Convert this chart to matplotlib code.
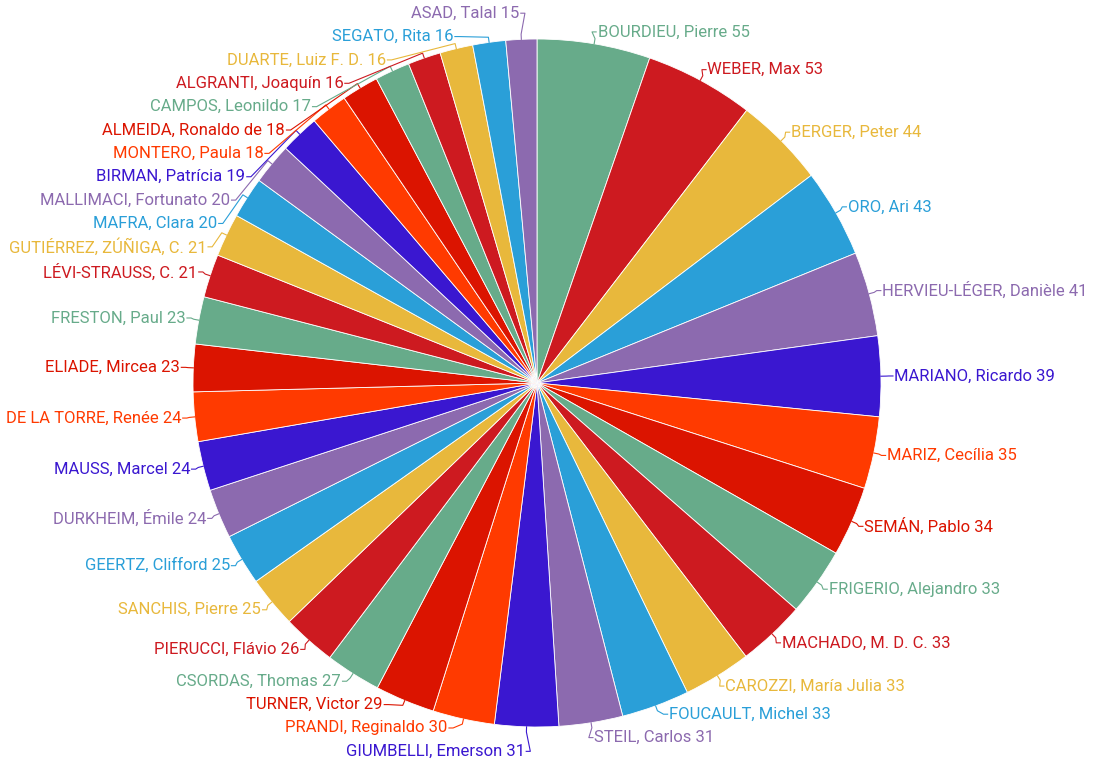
import numpy as np
import matplotlib
matplotlib.use("Agg")
import matplotlib.pyplot as plt

plt.rcParams['font.family'] = ['Roboto', 'DejaVu Sans']

names = [
    "BOURDIEU, Pierre", "WEBER, Max", "BERGER, Peter", "ORO, Ari",
    "HERVIEU-LÉGER, Danièle", "MARIANO, Ricardo", "MARIZ, Cecília", "SEMÁN, Pablo",
    "FRIGERIO, Alejandro", "MACHADO, M. D. C.", "CAROZZI, María Julia", "FOUCAULT, Michel",
    "STEIL, Carlos", "GIUMBELLI, Emerson", "PRANDI, Reginaldo", "TURNER, Victor",
    "CSORDAS, Thomas", "PIERUCCI, Flávio", "SANCHIS, Pierre", "GEERTZ, Clifford",
    "DURKHEIM, Émile", "MAUSS, Marcel", "DE LA TORRE, Renée", "ELIADE, Mircea",
    "FRESTON, Paul", "LÉVI-STRAUSS, C.", "GUTIÉRREZ, ZÚÑIGA, C.", "MAFRA, Clara",
    "MALLIMACI, Fortunato", "BIRMAN, Patrícia", "MONTERO, Paula", "ALMEIDA, Ronaldo de",
    "CAMPOS, Leonildo", "ALGRANTI, Joaquín", "DUARTE, Luiz F. D.", "SEGATO, Rita",
    "ASAD, Talal",
]
counts = [55, 53, 44, 43, 41, 39, 35, 34, 33, 33, 33, 33, 31, 31, 30, 29, 27, 26, 25, 25,
          24, 24, 24, 23, 23, 21, 21, 20, 20, 19, 18, 18, 17, 16, 16, 16, 15]
palette = ["#67ab8a", "#cd1a20", "#e8b83c", "#2a9fd8", "#8c6aaf", "#3a17d0", "#ff3a00", "#db1400"]
colors = [palette[i % len(palette)] for i in range(len(counts))]

fig = plt.figure(figsize=(10.94, 7.68), dpi=100)
ax = fig.add_axes([0, 0, 1, 1])

wedges, _ = ax.pie(counts, colors=colors, startangle=90, counterclock=False,
                   radius=1.0, wedgeprops=dict(edgecolor='white', linewidth=0.6))
ax.set_xlim(-537 / 344, (1094 - 537) / 344)
ax.set_ylim(-(768 - 383) / 344, 383 / 344)
ax.set_aspect('equal')
ax.axis('off')

# label placement: natural spot just outside the pie, then relax overlaps
r_lab = 1.035
gap = 0.068
info = []
for w, name, c, col in zip(wedges, names, counts, colors):
    ang = np.deg2rad((w.theta1 + w.theta2) / 2)
    info.append(dict(x=np.cos(ang), y=np.sin(ang), text=f"{name} {c}", col=col))

for side in (-1, 1):
    grp = [d for d in info if np.sign(d['x']) == side]
    grp.sort(key=lambda d: -d['y'])
    ys = np.array([r_lab * d['y'] for d in grp])
    for _ in range(500):
        moved = False
        for i in range(1, len(ys)):
            over = gap - (ys[i - 1] - ys[i])
            if over > 1e-4:
                ys[i - 1] += over / 2
                ys[i] -= over / 2
                moved = True
        ys = np.clip(ys, -1.085, 1.075)
        if not moved:
            break
    for d, y in zip(grp, ys):
        d['ly'] = y
        d['lx'] = side * max(np.sqrt(max(r_lab ** 2 - y ** 2, 0)), abs(r_lab * d['x']))

for d in info:
    side = 1 if d['x'] > 0 else -1
    xs = [d['x'], 1.015 * d['x'], d['lx'] - side * 0.012, d['lx']]
    ys = [d['y'], 1.015 * d['y'], d['ly'], d['ly']]
    ax.plot(xs, ys, color=d['col'], lw=0.8)
    ax.text(d['lx'] + side * 0.004, d['ly'], d['text'], color=d['col'], fontsize=12,
            ha='left' if side > 0 else 'right', va='center')

fig.savefig("out.png", dpi=100)
